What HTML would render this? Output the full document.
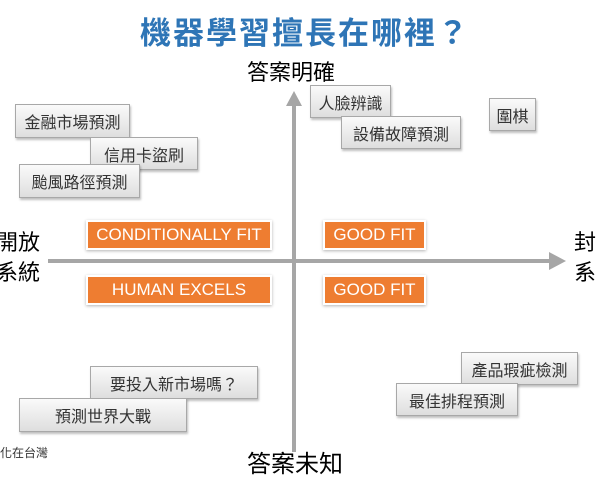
<!DOCTYPE html>
<html><head><meta charset="utf-8"><style>
body{margin:0;width:600px;height:491px;background:#fff;position:relative;overflow:hidden;font-family:"Liberation Sans","Noto Sans CJK TC",sans-serif}
.t{position:absolute;white-space:nowrap}
.b{position:absolute;box-sizing:border-box;border:1px solid #a8a8a8;background:linear-gradient(#fafafa,#dedede);box-shadow:1px 2px 2px rgba(0,0,0,.25);font-size:16px;color:#333;display:flex;align-items:center;justify-content:center}
.o{position:absolute;box-sizing:border-box;background:#ee7d31;border:2px solid #fff;box-shadow:0 1px 3px rgba(0,0,0,.3);color:#fff;font-size:17px;display:flex;align-items:center;justify-content:center}
</style></head><body>
<div class="t" style="left:0;width:610px;text-align:center;top:8px;font-size:31px;font-weight:bold;color:#2e75b6;letter-spacing:2px">機器學習擅長在哪裡？</div>
<div class="t" style="left:247px;top:55px;font-size:22px;color:#000">答案明確</div>
<div class="t" style="left:247px;top:444px;font-size:24px;color:#000">答案未知</div>
<div class="t" style="left:-4px;top:228px;font-size:22px;line-height:30px">開放<br>系統</div>
<div class="t" style="left:574px;top:228px;font-size:22px;line-height:30px">封<br>系</div>
<div class="t" style="left:0;top:444px;font-size:12px;color:#333">化在台灣</div>
<svg style="position:absolute;left:0;top:0" width="600" height="491">
<line x1="48" y1="261" x2="552" y2="261" stroke="#a6a6a6" stroke-width="4"/>
<polygon points="566,261 549,252 549,270" fill="#a6a6a6"/>
<line x1="294" y1="452" x2="294" y2="104" stroke="#a6a6a6" stroke-width="4"/>
<polygon points="294,91 286,106 302,106" fill="#a6a6a6"/>
</svg>
<div class="b" style="left:15px;top:104px;width:115px;height:34px">金融市場預測</div>
<div class="b" style="left:90px;top:137px;width:108px;height:33px">信用卡盜刷</div>
<div class="b" style="left:19px;top:164px;width:121px;height:34px">颱風路徑預測</div>
<div class="b" style="left:310px;top:85px;width:81px;height:33px">人臉辨識</div>
<div class="b" style="left:341px;top:116px;width:120px;height:33px">設備故障預測</div>
<div class="b" style="left:489px;top:98px;width:47px;height:33px">圍棋</div>
<div class="b" style="left:90px;top:366px;width:168px;height:33px">要投入新市場嗎？</div>
<div class="b" style="left:19px;top:398px;width:168px;height:34px">預測世界大戰</div>
<div class="b" style="left:461px;top:352px;width:117px;height:33px">產品瑕疵檢測</div>
<div class="b" style="left:396px;top:383px;width:122px;height:33px">最佳排程預測</div>
<div class="o" style="left:86px;top:220px;width:186px;height:30px">CONDITIONALLY FIT</div>
<div class="o" style="left:86px;top:275px;width:186px;height:30px">HUMAN EXCELS</div>
<div class="o" style="left:323px;top:220px;width:103px;height:30px">GOOD FIT</div>
<div class="o" style="left:323px;top:275px;width:103px;height:30px">GOOD FIT</div>
</body></html>
